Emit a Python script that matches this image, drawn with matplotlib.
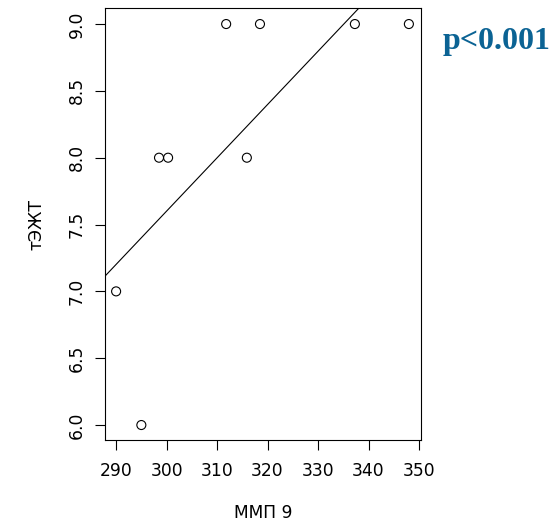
import matplotlib
matplotlib.use("Agg")
import matplotlib.pyplot as plt
import numpy as np

mmp9 = [290.0, 295.0, 298.5, 300.3, 311.8, 315.9, 318.5, 337.3, 348.0]
tezht = [7, 6, 8, 8, 9, 8, 9, 9, 9]
x_ticks = [290, 300, 310, 320, 330, 340, 350]
y_ticks = [6.0, 6.5, 7.0, 7.5, 8.0, 8.5, 9.0]
p_text = "p<0.001"

plt.rcParams['font.family'] = ['DejaVu Sans']
fig = plt.figure(figsize=(5.55, 5.22), dpi=100)
ax = fig.add_axes([105/555, 1-440/522, (421-105)/555, (440-8)/522])

ax.scatter(mmp9, tezht, s=42, facecolors='none', edgecolors='black', linewidths=0.8, zorder=3)
slope, intercept = np.polyfit(mmp9, tezht, 1)
ax.axline((0, intercept), slope=slope, color='black', lw=0.8)

ax.set_xlim(287.8, 350.4)
ax.set_ylim(5.888, 9.12)
ax.set_xticks(x_ticks)
ax.set_xticklabels([str(t) for t in x_ticks])
ax.set_yticks(y_ticks)
ax.set_yticklabels([f"{t:.1f}" for t in y_ticks], rotation=90, va='center')
ax.tick_params(direction='out', length=7, width=0.8, labelsize=12.3)
ax.tick_params(axis='x', pad=9)
ax.tick_params(axis='y', pad=7)
for s in ax.spines.values():
    s.set_linewidth(0.8)

ax.set_xlabel("ММП 9", fontsize=12.3, labelpad=17)
ax.set_ylabel("тЭЖТ", fontsize=12.3, labelpad=16)

fig.text(497/555, 1-41/522, p_text, color='#0b6394', fontsize=23, fontweight='bold',
         family='Liberation Serif', ha='center', va='center')

fig.savefig("out.png", dpi=100)
